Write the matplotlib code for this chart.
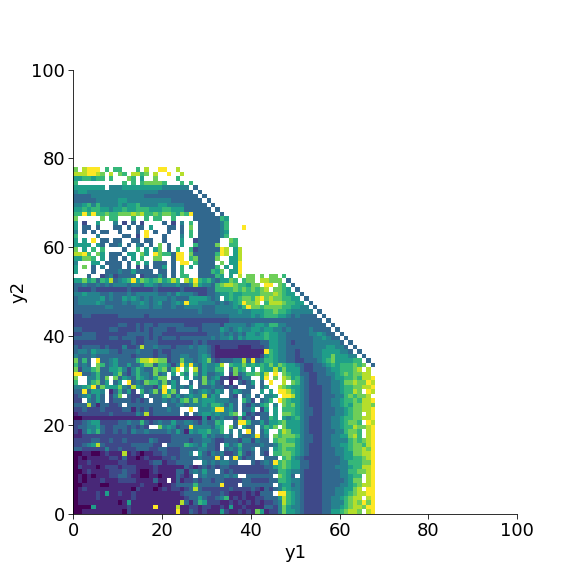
import numpy as np
import matplotlib
matplotlib.use("Agg")
import matplotlib.pyplot as plt

# Heat levels 0-9, '.' = empty bin.
# One string per y2 bin, top row first, column 0 = y1 bin 0. Spaces just for counting.
rows_y2 = [
    "7.8999.6.6 6...6.8..9 9..8",
    "8889987.8. 76.8867.8. .9..8",
    "5566566.6. ..76.5..7. ...6",
    "6......... .6.6.67777 6...6.6",
    "5555555.44 4555555555 444444.3",
    "4554444444 4444444443 3333333.3",
    "3333444444 4444443333 33333333.3",
    "3333344444 5544444444 443333333.3",
    "4456464444 5455644445 5444433333 .3",
    "5565665545 5655666555 6655533333 3.3",
    "6696966766 7778786676 7765769333 33.3",
    "7.....7.66 ...6..6.66 ..6....333 33365",
    "5.2..5...4 .2.3.2.... 3.2.4.6.33 33346",
    "5.33.3...3 3.3.33.5.. .33.3.7.33 33346...9",
    "4.3.3.33.. 3...3.9.3. .3..3.6.33 33345",
    "6....4.... .33.2.9... 3...4.6.33 33346",
    "5.5.9.33.3 3..33.33.. 3...5..233 333..76",
    "5555.53.33 4.3.43.3.7 .3..5..633 337..66",
    "7.5.6.6... .3..6.5.57 .3.6..6233 33398.58",
    "8896.75.33 3.55.75.97 66399.7333 33698.58",
    "55776.5.33 .3.5.6..77 ..399.6733 337..558",
    "4...55.333 3.3.6.5.33 3.3.99.633 33.7.559",
    "5.7.3.4.33 3.3.2.3.33 5.3.6.5.33 336.5.59",
    "5...3..333 43353333.3 3.3.6...33 3657.559",
    "...3..2342 3333.23335 3.3.66..33 3365.5.8.7 7.7.77.6",
    "5575636583 4569576567 5686.86965 6435576.67 7.88777.3",
    "3343343434 4434435543 4445334854 4367887665 77.99.76.3",
    "3222322222 2232222232 2222322222 3366667676 7678.7765. 3",
    "4454443343 3343444443 3435444322 3345565566 6677787655 .3",
    "3444445343 3545434344 4343335555 434.565677 6897877665 5.3",
    "3444454333 3434454345 3345495544 4434345697 78.6888766 55.3",
    "3333333443 3333444344 3343344443 3344445469 7767777665 544.3",
    "3333333333 3333333333 3333333343 3344444544 5556676654 4444.3",
    "2233222222 3333332333 3333333333 3333344444 5456665543 43333.3",
    "2222222222 2222222222 2222222222 2222233333 3333333333 333333.3",
    "2222222222 3322323323 3333322223 3332444443 4554664433 3333333.3",
    "3322222233 2222323233 3223333323 3335434544 5545544343 33343333.3",
    "2233322222 2233333233 2222222222 3334343435 5456554433 333445433.3",
    "3333322233 2333223232 3332333333 3434453545 5556554433 3333445433 .3",
    "2222222222 2223223332 2222222323 2222222222 2233554432 3333444444 3.3",
    "3233332322 2422383343 3323334344 3212222111 2223554433 3333444554 43.3",
    "3443544433 2333433323 2233333344 3211111111 1119654433 2333445555 443.3",
    "4333433333 3332333323 3233443345 4211111111 1125654433 2333445575 5544.3",
    "7363.93345 3333688987 7233744345 7323334483 9346654433 2233345675 55566.3",
    "6343.76345 3353357736 6424959435 4458.65575 6565757655 4322334565 666767.3",
    "7244673355 6424643376 7369.6.835 4466.3756. 5.65585755 5322333455 66678.8.",
    "9933463335 7324644373 4.5.64.635 3345.27346 6758.9.765 5332233445 6767788.",
    "7..44637.7 3543654357 7.33.5.437 3452211244 ..59.7.875 6432233345 56676889",
    "6..46735.3 5.93437664 7353..3.37 4532.1.323 5.3.9..8.7 6432233344 57787798",
    "4456937555 7438543325 9.53435.33 3433232..3 3.35..8765 5432223344 56677889",
    "3393554.13 6352.63473 9573..4345 4354.35433 ..5.5.9986 5432223344 56687.98",
    "2345353.24 7.3224.333 6735345448 354..32.34 .3.445.998 5432223334 4676778.",
    "22.4353.23 3332323.33 4343674745 5544433.64 2.346.9765 5432223344 56676889",
    "3338313322 3.33333333 .334434445 4665353.32 4356.4.767 5432223344 56577887",
    "2232223222 2331323233 3433..9.44 4599453.33 5.25.5.666 5433223334 45677889",
    "1222222232 2222438233 3333.3.345 5454467.52 3233.5.776 5433223334 45677.89",
    "0011111111 1111111111 1111111114 1434332623 2.3365.545 6432223344 56677889",
    "2234552222 3343363234 3353344324 3365..3996 3353556755 5432223344 56776.98",
    "2334453223 3323232..7 4542339444 4356.73.53 3.4657.755 5432223344 56687789",
    "2135463223 2324334333 3435315455 6446.4.4.9 3.35..6875 5432223334 46776.89",
    "1122222222 2222222222 2233333335 343343.433 4934.76777 6433223344 55786.89",
    "2222332232 2322222432 2233332334 4322333244 2433.67766 5433223344 44676789",
    "2234583222 2223333322 .333365435 332.534633 3343346777 5432223344 55677689",
    "3322222422 3222333223 3222333344 332.343533 4.33.56766 5432223334 45677879",
    "0011001211 1812101122 3222334.53 2434223632 3.32.66776 5432223334 45577889",
    "0101111122 1311012111 2232333343 3393.39423 3..333.675 4322223333 45566789",
    "0112111111 2211111233 1223333..4 3434433... 3234396765 5332223333 44666779",
    "0211101222 1222111121 1111132123 2323322222 2223356765 5332223334 44566889",
    "0012111122 2322100121 1113313435 33.3232222 2222336654 4322223333 44667789",
    "0101011122 3321100110 1113212.34 3333434..3 33333.7653 .322223333 44566.89",
    "0101112111 2222111131 1.13122323 3233222233 2222336654 4322223333 34577.89",
    "0011110011 1111121110 1123333633 3339222.33 33333.4553 4322223333 44567889",
    "0121111111 1110211101 2122123832 2222232222 3213234654 4322223334 45578.99",
    "0111121511 2112111111 1111233333 3223211121 21333.9965 4322223334 45678899",
    "0111121111 1112111111 1111123353 2234612121 1223335865 4322223344 56788.89",
    "0111111111 0151111111 1111831365 2221121212 1212234865 4322223344 46787979",
    "0000511111 1121111191 1118112212 2112151121 1113324754 4322223344 56788799",
    "0011111111 1021111111 1119113212 1115211212 1751224755 4322223355 67887.89",
]

tick_vals = [0, 20, 40, 60, 80, 100]

n_rows = len(rows_y2)
n_cols = 68
grid = np.full((n_rows, n_cols), np.nan)
for r, row in enumerate(rows_y2):
    row = row.replace(" ", "")
    for c, ch in enumerate(row[:n_cols]):
        if ch != ".":
            grid[n_rows - 1 - r, c] = int(ch)

fig = plt.figure(figsize=(8, 8), dpi=72)
ax = fig.add_axes([0.1276, 0.1083, 0.77, 0.7707])
ax.pcolormesh(np.arange(n_cols + 1), np.arange(n_rows + 1), np.ma.masked_invalid(grid),
              cmap="viridis", vmin=0, vmax=9)

ax.set_xlim(0, 100)
ax.set_ylim(0, 100)
ax.set_xticks(tick_vals)
ax.set_yticks(tick_vals)
ax.tick_params(labelsize=18, length=5)
ax.set_xlabel("y1", fontsize=18)
ax.set_ylabel("y2", fontsize=18)
ax.spines["top"].set_visible(False)
ax.spines["right"].set_visible(False)

plt.savefig("out.png", dpi=72)
plt.close()
